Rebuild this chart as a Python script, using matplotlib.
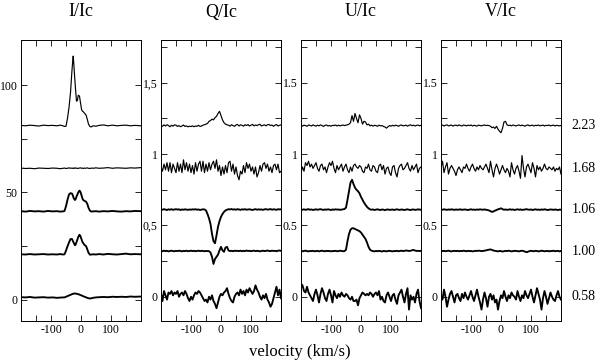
import matplotlib
matplotlib.use("Agg")
import matplotlib.pyplot as plt
import matplotlib.transforms as mtransforms

plt.rcParams['font.family'] = ['Liberation Serif', 'DejaVu Serif']

# ---------------- data ----------------
PHASES = ["0.58", "1.00", "1.06", "1.68", "2.23"]          # bottom -> top
I_OFFSETS = [0, 20, 40, 60, 80]
QUV_OFFSETS = [0.0, 0.32, 0.61, 0.90, 1.20]

VEL_I = [-200, -185, -170, -155, -140, -125, -110, -95, -80, -70,
         -60, -55, -50, -45, -40, -35, -30, -28, -26, -24,
         -22, -20, -18, -15, -12, -9, -5, -2, 2, 5,
         8, 12, 17, 21, 25, 30, 35, 40, 50, 60,
         75, 90, 105, 120, 135, 150, 165, 180, 200]

I_223 = [1.2, 1.0, 1.3, 1.1, 0.9, 1.3, 1.1, 1.2, 1.0, 1.3,
         1.0, 0.7, 0.8, 4.5, 9.5, 16.5, 27.0, 30.5, 33.5, 30.0,
         25.6, 21.5, 17.7, 12.5, 12.8, 15.3, 14.8, 12.0, 8.5, 7.8,
         7.5, 6.8, 6.0, 4.0, 1.8, 0.6, 0.5, 1.0, 0.8, 1.2,
         1.4, 1.0, 1.3, 1.0, 1.2, 1.3, 1.0, 1.2, 1.0]
I_168 = [1.3, 1.1, 1.2, 1.0, 1.3, 1.2, 1.1, 1.3, 1.2, 1.0,
         1.2, 1.3, 1.1, 1.2, 1.4, 1.2, 1.3, 1.2, 1.1, 1.3,
         1.2, 1.4, 1.2, 1.3, 1.1, 1.2, 1.3, 1.4, 1.2, 1.3,
         1.1, 1.3, 1.2, 1.4, 1.2, 1.1, 1.3, 1.2, 1.4, 1.2,
         1.3, 1.5, 1.2, 1.4, 1.3, 1.2, 1.4, 1.3, 1.5]
I_106 = [1.2, 1.0, 1.3, 1.1, 1.2, 1.0, 1.3, 1.1, 1.2, 1.0,
         1.1, 1.3, 3.5, 6.5, 9.0, 9.6, 9.4, 8.8, 8.0, 7.2,
         6.8, 6.4, 6.8, 8.0, 9.0, 10.0, 10.8, 10.2, 8.5, 7.0,
         6.3, 6.0, 5.6, 4.6, 2.8, 1.4, 1.0, 1.1, 1.2, 1.0,
         1.2, 1.1, 1.3, 1.1, 1.0, 1.2, 1.1, 1.3, 1.2]
I_100 = [1.1, 1.0, 1.2, 1.0, 1.1, 1.2, 1.0, 1.1, 1.0, 1.2,
         1.0, 1.1, 2.8, 4.8, 6.6, 8.2, 8.2, 7.6, 7.0, 6.4,
         5.8, 5.3, 5.6, 6.8, 8.0, 9.2, 10.2, 9.6, 8.0, 6.8,
         6.2, 5.4, 4.9, 3.4, 1.8, 0.9, 1.0, 1.1, 1.0, 1.2,
         1.0, 1.3, 1.1, 1.0, 1.2, 1.4, 1.1, 1.2, 1.1]
I_058 = [1.1, 1.0, 1.2, 0.9, 1.0, 1.1, 0.9, 1.0, 0.8, 0.9,
         1.0, 1.0, 1.3, 1.6, 1.9, 2.2, 2.5, 2.6, 2.7, 2.8,
         2.8, 2.8, 2.8, 2.7, 2.6, 2.5, 2.3, 2.1, 1.9, 1.7,
         1.5, 1.3, 1.0, 0.8, 0.6, 0.5, 0.6, 0.8, 1.0, 1.1,
         1.2, 1.1, 1.3, 1.2, 1.3, 1.2, 1.4, 1.3, 1.4]

VEL = [-200, -195, -190, -185, -180, -175, -170, -165, -160, -155,
       -150, -145, -140, -135, -130, -125, -120, -115, -110, -105,
       -100, -95, -90, -85, -80, -75, -70, -65, -60, -55,
       -50, -45, -40, -35, -30, -25, -20, -15, -10, -5,
       0, 5, 10, 15, 20, 25, 30, 35, 40, 45,
       50, 55, 60, 65, 70, 75, 80, 85, 90, 95,
       100, 105, 110, 115, 120, 125, 130, 135, 140, 145,
       150, 155, 160, 165, 170, 175, 180, 185, 190, 195, 200]

Q_223 = [0.000, -0.005, 0.005, -0.003, 0.006, 0.000, -0.008, 0.002, -0.004, 0.005,
         0.003, -0.006, 0.000, -0.008, -0.003, 0.004, -0.006, -0.002, -0.009, -0.004,
         -0.007, -0.002, -0.008, -0.003, -0.005, 0.002, -0.006, -0.003, 0.003, 0.006,
         0.010, 0.015, 0.030, 0.035, 0.045, 0.040, 0.055, 0.065, 0.085, 0.100,
         0.070, 0.040, 0.020, 0.010, 0.005, 0.003, -0.004, 0.006, 0.000, -0.005,
         0.004, 0.008, -0.003, 0.005, 0.002, -0.004, 0.006, 0.000, 0.007, -0.003,
         0.003, 0.008, -0.002, 0.004, 0.000, 0.006, 0.009, -0.003, 0.002, 0.005,
         -0.002, 0.006, 0.008, 0.000, 0.004, -0.005, 0.003, 0.007, -0.003, 0.002, 0.005]
Q_168 = [0.01, -0.02, 0.03, -0.01, 0.04, -0.02, 0.04, -0.03, 0.03, 0.00,
         -0.03, 0.04, -0.02, 0.03, -0.03, 0.06, -0.01, 0.04, -0.02, 0.03,
         -0.03, 0.02, -0.04, 0.04, -0.02, 0.03, 0.05, -0.02, 0.05, -0.03,
         0.03, -0.02, 0.04, -0.01, 0.03, 0.05, 0.00, 0.06, -0.02, 0.02,
         -0.05, 0.01, -0.04, 0.02, -0.03, 0.04, 0.05, -0.02, 0.03, -0.04,
         0.01, -0.05, -0.08, -0.02, -0.04, 0.02, -0.03, 0.04, 0.00, 0.03,
         -0.02, 0.01, -0.04, 0.01, -0.06, -0.03, 0.02, -0.02, 0.03, 0.04,
         0.00, 0.03, -0.02, 0.01, -0.03, 0.02, 0.03, -0.01, 0.03, -0.03, -0.02]
Q_106 = [0.003, 0.000, 0.004, 0.001, -0.002, 0.003, 0.000, 0.004, -0.001, 0.002,
         0.004, 0.001, 0.003, -0.002, 0.002, 0.000, 0.003, 0.001, -0.001, 0.002,
         0.000, 0.003, 0.001, 0.004, 0.000, 0.002, -0.002, 0.001, 0.003, 0.002,
         -0.005, -0.030, -0.060, -0.100, -0.170, -0.220, -0.235, -0.180, -0.120, -0.080,
         -0.050, -0.030, -0.015, -0.005, 0.000, 0.004, 0.002, 0.005, 0.001, 0.003,
         0.000, 0.004, 0.002, -0.001, 0.003, 0.001, 0.004, 0.000, 0.002, 0.003,
         0.001, -0.002, 0.002, 0.004, 0.000, 0.003, 0.001, 0.002, -0.001, 0.003,
         0.004, 0.001, 0.002, 0.005, 0.000, 0.003, 0.002, -0.001, 0.004, 0.002, 0.003]
Q_100 = [0.002, -0.001, 0.003, 0.000, 0.002, -0.002, 0.001, 0.003, 0.000, -0.001,
         0.002, 0.000, 0.003, 0.001, -0.002, 0.002, 0.000, 0.003, -0.001, 0.001,
         0.003, 0.000, 0.002, -0.001, 0.001, 0.003, 0.000, 0.002, 0.001, -0.001,
         0.001, 0.000, 0.000, -0.010, -0.040, -0.090, -0.055, -0.040, -0.025, 0.005,
         0.030, 0.005, -0.005, 0.025, 0.030, 0.005, 0.000, 0.002, -0.001, 0.003,
         0.001, 0.002, 0.000, 0.003, -0.001, 0.002, 0.000, 0.004, 0.001, 0.002,
         -0.001, 0.002, 0.003, 0.000, 0.002, 0.001, -0.002, 0.001, 0.003, 0.000,
         0.002, 0.004, 0.001, 0.000, 0.003, 0.001, 0.002, -0.001, 0.003, 0.004, 0.002]
Q_058 = [0.02, -0.03, 0.04, 0.01, -0.02, 0.03, 0.02, 0.04, 0.01, 0.03,
         0.02, 0.04, 0.00, 0.02, 0.03, 0.01, 0.04, 0.02, -0.01, -0.03,
         0.00, -0.02, 0.01, 0.03, 0.02, 0.04, 0.03, 0.01, -0.01, -0.03,
         -0.02, -0.04, 0.00, -0.02, 0.01, -0.03, -0.05, -0.08, -0.04, 0.00,
         0.02, 0.01, 0.03, 0.04, 0.06, 0.02, -0.01, -0.03, -0.04, 0.00,
         0.02, 0.03, 0.01, 0.05, 0.02, 0.04, 0.01, 0.05, 0.03, 0.06,
         0.04, 0.02, 0.04, 0.08, 0.05, 0.03, 0.00, -0.02, 0.01, -0.01,
         0.02, -0.02, -0.04, -0.07, -0.05, -0.01, 0.03, 0.07, 0.01, 0.05, -0.01]

U_223 = [0.002, -0.004, 0.003, 0.000, -0.005, 0.004, 0.001, -0.003, 0.005, 0.000,
         -0.004, 0.003, -0.002, 0.005, 0.000, -0.006, 0.002, 0.004, -0.003, 0.001,
         -0.005, 0.002, 0.000, 0.004, -0.003, 0.003, -0.002, 0.001, 0.004, 0.000,
         0.003, 0.005, 0.010, 0.020, 0.070, 0.030, 0.085, 0.050, 0.020, 0.075,
         0.050, 0.010, 0.030, 0.025, 0.005, 0.010, -0.002, 0.003, -0.004, 0.002,
         0.000, -0.005, 0.003, -0.002, 0.000, -0.006, -0.010, -0.018, -0.008, 0.000,
         -0.004, 0.002, -0.003, 0.003, 0.000, -0.005, 0.002, 0.004, -0.002, 0.000,
         0.003, -0.004, 0.002, 0.005, -0.001, 0.003, -0.003, 0.001, 0.004, -0.002, 0.002]
U_168 = [-0.03, 0.01, -0.02, 0.04, 0.02, 0.05, 0.01, 0.03, 0.00, 0.02,
         0.04, 0.00, -0.02, 0.02, 0.03, -0.01, 0.01, -0.03, 0.01, 0.04,
         0.02, 0.05, 0.00, -0.03, 0.02, -0.01, 0.01, 0.03, -0.02, 0.01,
         0.03, -0.01, -0.03, 0.01, -0.02, 0.02, 0.03, 0.01, 0.00, 0.02,
         0.01, -0.02, -0.03, 0.01, 0.00, 0.03, -0.01, -0.02, 0.02, 0.01,
         -0.02, -0.03, 0.02, 0.03, -0.01, 0.02, -0.04, 0.00, 0.01, -0.03,
         -0.05, 0.01, 0.02, -0.03, -0.06, 0.00, 0.02, 0.03, -0.01, 0.00,
         0.02, 0.04, 0.00, -0.02, 0.02, -0.01, 0.01, 0.03, -0.03, 0.00, 0.01]
U_106 = [0.002, 0.000, 0.003, -0.001, 0.002, 0.004, 0.000, 0.002, -0.002, 0.001,
         0.003, 0.000, 0.002, 0.004, 0.001, -0.001, 0.002, 0.000, 0.003, 0.001,
         -0.002, 0.002, 0.000, 0.003, 0.001, 0.002, -0.001, 0.001, 0.003, 0.005,
         0.015, 0.070, 0.130, 0.190, 0.210, 0.180, 0.155, 0.140, 0.130, 0.115,
         0.090, 0.070, 0.050, 0.035, 0.020, 0.010, 0.003, 0.000, 0.002, -0.002,
         0.001, 0.003, 0.000, -0.002, 0.002, 0.000, -0.003, 0.001, 0.002, -0.001,
         0.000, 0.002, -0.002, 0.001, 0.003, 0.000, -0.001, 0.002, 0.000, -0.002,
         0.001, 0.003, 0.000, -0.002, 0.001, 0.002, -0.001, 0.000, 0.003, 0.001, 0.000]
U_100 = [0.002, -0.001, 0.001, 0.003, 0.000, -0.002, 0.001, 0.000, 0.002, -0.001,
         0.000, 0.002, -0.002, 0.001, 0.003, 0.000, -0.001, 0.002, 0.000, 0.001,
         -0.002, 0.001, 0.000, 0.002, -0.001, 0.000, 0.003, 0.001, -0.001, 0.000,
         0.010, 0.070, 0.120, 0.150, 0.160, 0.160, 0.155, 0.150, 0.145, 0.140,
         0.130, 0.115, 0.100, 0.085, 0.060, 0.030, 0.010, 0.003, 0.000, -0.002,
         0.001, -0.001, 0.002, 0.000, -0.003, 0.001, 0.000, -0.002, 0.001, 0.002,
         0.000, -0.002, 0.001, 0.000, 0.002, -0.001, 0.001, 0.003, 0.000, 0.002,
         0.004, 0.003, 0.001, 0.002, 0.006, 0.008, 0.004, 0.001, 0.002, 0.000, 0.002]
U_058 = [0.09, 0.08, 0.04, 0.03, 0.07, 0.03, 0.01, -0.01, -0.03, 0.02,
         0.05, 0.01, -0.04, 0.02, 0.06, 0.03, -0.01, -0.03, 0.02, 0.05,
         0.01, -0.04, 0.04, 0.01, -0.01, 0.02, 0.00, 0.03, 0.01, 0.00,
         0.02, 0.01, -0.01, -0.02, 0.00, -0.03, -0.03, -0.02, -0.06, -0.01,
         0.01, 0.03, 0.02, 0.01, 0.02, 0.01, 0.03, 0.02, 0.00, 0.02,
         0.03, 0.01, 0.04, -0.02, 0.00, -0.03, -0.04, 0.01, 0.03, 0.00,
         -0.03, 0.01, 0.02, -0.02, -0.05, 0.01, 0.03, 0.05, 0.00, -0.04,
         0.02, 0.06, -0.09, 0.01, -0.02, 0.00, -0.04, 0.02, 0.05, -0.03, -0.08]

V_223 = [0.000, 0.004, -0.003, 0.002, 0.005, -0.002, 0.001, 0.004, -0.004, 0.002,
         0.003, -0.002, 0.005, 0.000, -0.003, 0.004, 0.001, -0.002, 0.003, 0.000,
         0.004, -0.003, 0.002, 0.000, -0.004, 0.003, 0.001, -0.002, 0.002, 0.004,
         0.000, 0.002, 0.000, -0.005, -0.015, -0.010, -0.020, -0.005, -0.025, -0.040,
         -0.050, -0.020, 0.025, 0.030, 0.005, 0.000, 0.003, -0.002, 0.004, 0.001,
         -0.003, 0.002, 0.004, -0.001, 0.003, 0.000, -0.004, 0.002, 0.005, -0.002,
         0.001, 0.003, -0.003, 0.002, 0.000, 0.004, -0.002, 0.001, 0.003, -0.003,
         0.002, 0.000, 0.004, -0.002, 0.001, 0.003, -0.003, 0.002, 0.000, -0.002, 0.001]
V_168 = [0.01, 0.05, -0.03, 0.01, 0.04, -0.04, 0.00, 0.02, 0.00, -0.02,
         -0.05, -0.01, 0.01, -0.01, -0.03, 0.01, 0.00, 0.03, 0.00, -0.02,
         0.01, 0.03, 0.00, -0.02, 0.01, -0.01, 0.02, 0.00, -0.01, 0.01,
         0.03, 0.00, -0.03, 0.05, -0.01, -0.06, 0.00, 0.03, 0.00, -0.04,
         -0.01, 0.02, -0.01, -0.03, 0.00, -0.02, -0.06, 0.04, -0.01, -0.04,
         0.00, 0.02, -0.02, -0.07, 0.09, 0.00, -0.06, 0.01, 0.03, 0.00,
         -0.03, 0.04, 0.00, -0.06, 0.02, -0.01, 0.01, -0.02, 0.00, 0.03,
         0.00, -0.01, 0.01, 0.00, -0.01, 0.01, -0.02, 0.00, -0.01, 0.01, -0.04]
V_106 = [0.002, 0.000, 0.003, 0.001, -0.001, 0.002, 0.000, 0.003, 0.001, -0.001,
         0.002, 0.000, 0.001, 0.003, -0.001, 0.001, 0.002, 0.000, -0.002, 0.001,
         0.003, 0.000, 0.001, -0.001, 0.002, 0.000, 0.003, 0.001, 0.000, 0.002,
         0.000, -0.002, -0.005, -0.010, -0.015, -0.012, -0.006, -0.002, 0.003, 0.006,
         0.010, 0.004, 0.000, 0.002, -0.001, 0.001, 0.003, 0.000, 0.002, -0.002,
         0.001, 0.003, 0.000, 0.002, -0.001, 0.000, 0.002, 0.004, 0.001, 0.000,
         0.002, -0.002, 0.001, 0.003, 0.000, 0.001, -0.001, 0.002, 0.000, 0.003,
         0.001, -0.002, 0.000, 0.002, 0.001, -0.001, 0.002, 0.000, -0.002, 0.001, 0.000]
V_100 = [0.001, 0.000, 0.002, -0.001, 0.001, 0.003, 0.000, -0.002, 0.001, 0.002,
         0.000, 0.002, -0.001, 0.001, 0.000, 0.003, 0.001, -0.001, 0.002, 0.000,
         0.001, -0.002, 0.000, 0.002, 0.001, 0.003, 0.002, 0.000, 0.001, 0.003,
         0.005, 0.008, 0.010, 0.012, 0.008, 0.004, 0.002, 0.000, -0.002, 0.001,
         0.000, -0.003, -0.001, 0.002, 0.000, 0.003, 0.001, -0.002, 0.000, 0.002,
         0.001, 0.000, -0.002, 0.001, 0.003, 0.000, -0.003, -0.008, -0.004, 0.000,
         0.002, 0.000, -0.001, 0.002, 0.001, -0.002, 0.000, 0.003, 0.001, -0.001,
         0.000, 0.002, -0.002, 0.001, 0.000, 0.003, -0.001, 0.001, 0.002, -0.002, 0.001]
V_058 = [0.01, -0.02, 0.05, 0.00, -0.07, -0.02, 0.02, 0.04, 0.00, -0.04,
         0.01, 0.02, -0.01, -0.03, 0.02, -0.01, 0.03, 0.00, -0.02, 0.01,
         0.04, 0.00, -0.03, 0.01, 0.05, 0.00, -0.04, -0.09, -0.02, 0.03,
         -0.01, -0.07, 0.00, 0.02, -0.02, 0.01, -0.04, -0.02, -0.09, -0.03,
         0.01, -0.01, 0.04, 0.00, -0.03, 0.01, -0.01, 0.03, 0.01, 0.00,
         -0.02, 0.04, 0.00, -0.03, 0.01, -0.01, 0.04, 0.01, -0.01, 0.02,
         0.05, 0.00, -0.04, 0.01, 0.06, 0.02, -0.02, -0.09, -0.01, 0.04,
         0.00, -0.05, -0.01, 0.03, 0.00, -0.02, -0.03, 0.01, 0.04, 0.00, -0.02]

TITLES = ["I/Ic", "Q/Ic", "U/Ic", "V/Ic"]
XTICKS = [-100, 0, 100]
XMINOR = [-150, -50, 50, 150]
I_YTICKS = [0, 50, 100]
I_YTICKLABELS = ["0", "50", "100"]
QUV_YTICKS = [0, 0.5, 1, 1.5]
Q_YTICKLABELS = ["0", "0,5", "1", "1,5"]
UV_YTICKLABELS = ["0", "0.5", "1", "1.5"]
XLABEL = "velocity (km/s)"

# ---------------- figure ----------------
W, H = 600, 362
fig = plt.figure(figsize=(W / 100, H / 100), dpi=100)

lefts = [21, 161, 301, 441]
pw, top, bot = 120, 40, 321
LW = [1.35, 1.35, 1.35, 0.85, 0.85]   # bottom -> top

panels = [
    (VEL_I, [I_058, I_100, I_106, I_168, I_223], I_OFFSETS, I_YTICKS, I_YTICKLABELS, [25, 75], (-10, 121)),
    (VEL, [Q_058, Q_100, Q_106, Q_168, Q_223], QUV_OFFSETS, QUV_YTICKS, Q_YTICKLABELS, [0.25, 0.75, 1.25, 1.75], (-0.17, 1.80)),
    (VEL, [U_058, U_100, U_106, U_168, U_223], QUV_OFFSETS, QUV_YTICKS, UV_YTICKLABELS, [0.25, 0.75, 1.25, 1.75], (-0.17, 1.80)),
    (VEL, [V_058, V_100, V_106, V_168, V_223], QUV_OFFSETS, QUV_YTICKS, UV_YTICKLABELS, [0.25, 0.75, 1.25, 1.75], (-0.17, 1.80)),
]

axes = []
for k, (vel, series, offs, yt, ytl, ymin, ylim) in enumerate(panels):
    ax = fig.add_axes([lefts[k] / W, 1 - bot / H, pw / W, (bot - top) / H])
    for s, off, lw in zip(series, offs, LW):
        ax.plot(vel, [v + off for v in s], color='black', lw=lw, solid_joinstyle='round')
    ax.set_xlim(-200, 200)
    ax.set_ylim(*ylim)
    ax.set_xticks(XTICKS)
    ax.set_xticklabels([str(t) for t in XTICKS])
    ax.set_xticks(XMINOR, minor=True)
    ax.set_yticks(yt)
    ax.set_yticklabels(ytl)
    ax.set_yticks(ymin, minor=True)
    ax.tick_params(which='both', direction='in', top=True, right=True,
                   length=4.5, width=0.6, labelsize=8.5, pad=2.5)
    for sp in ax.spines.values():
        sp.set_linewidth(0.7)
    fig.text((lefts[k] + pw / 2) / W, 1 - 12 / H, TITLES[k], ha='center', va='center', fontsize=13)
    axes.append(ax)

# phase labels on the right, aligned with the V/Ic spectra
axV = axes[3]
trans = mtransforms.blended_transform_factory(fig.transFigure, axV.transData)
for lab, off in zip(PHASES, QUV_OFFSETS):
    fig.text(584 / W, off, lab, transform=trans, ha='center', va='center', fontsize=10)

fig.text(300 / W, 1 - 352 / H, XLABEL, ha='center', va='center', fontsize=12)

fig.savefig("out.png", dpi=100)
